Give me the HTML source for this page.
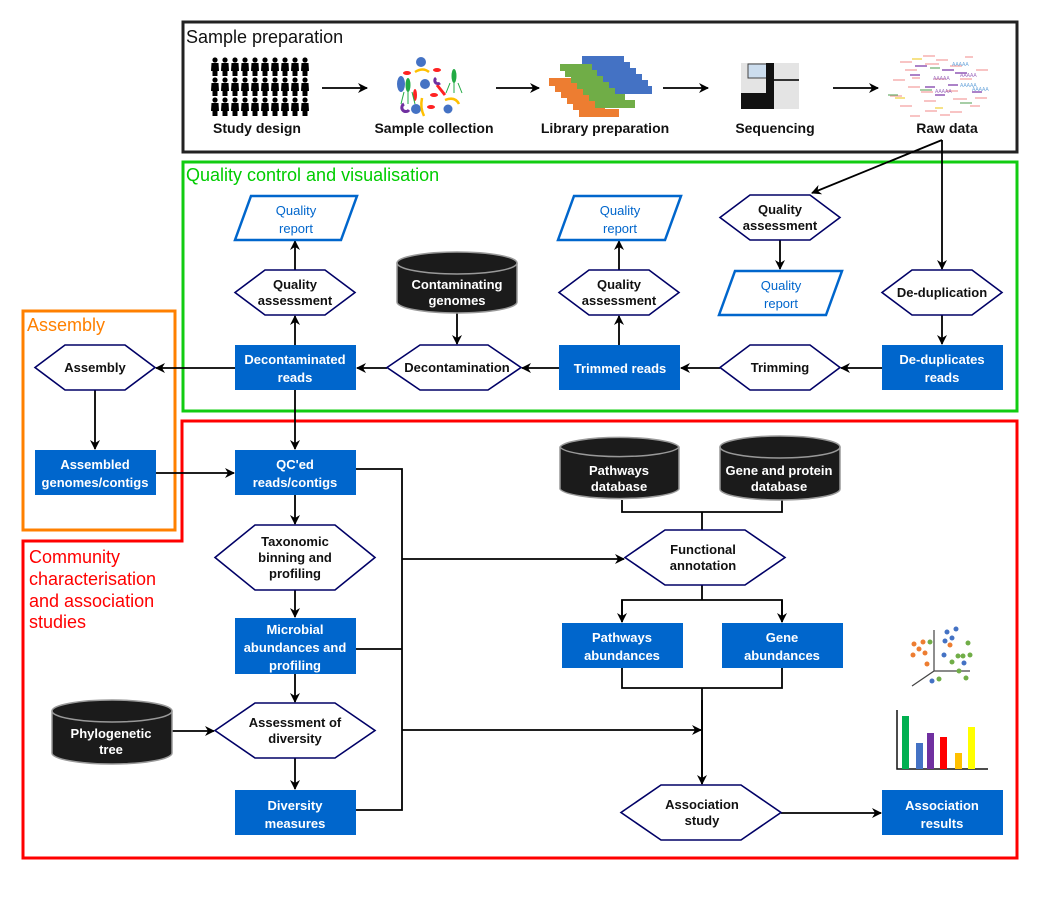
<!DOCTYPE html>
<html><head><meta charset="utf-8"><style>
html,body{margin:0;padding:0;background:#fff;}
svg{display:block;}
text{font-family:"Liberation Sans",Arial,sans-serif;}
.b{font-weight:bold;font-size:13px;text-anchor:middle;fill:#111;}
.w{font-weight:bold;font-size:13px;text-anchor:middle;fill:#fff;}
.q{font-size:13px;text-anchor:middle;fill:#0066cc;}
.lbl{font-weight:bold;font-size:14px;text-anchor:middle;fill:#111;}
.hex{fill:#fff;stroke:#000066;stroke-width:1.6;}
.par{fill:#fff;stroke:#0066cc;stroke-width:2.5;}
.rect{fill:#0066cc;}
.cyl{fill:#1b1b1b;stroke:#999;stroke-width:1.5;}
.ln{stroke:#000;stroke-width:1.8;fill:none;}
</style></head><body>
<svg width="1039" height="901" viewBox="0 0 1039 901" xmlns="http://www.w3.org/2000/svg">
<defs>
<marker id="a" markerWidth="10" markerHeight="10" refX="9" refY="5" orient="auto" markerUnits="userSpaceOnUse">
<path d="M0,0 L10,5 L0,10 L3,5 Z" fill="#000"/></marker>
<pattern id="ppl" x="210" y="57" width="10" height="20" patternUnits="userSpaceOnUse">
<circle cx="5" cy="3" r="2.6" fill="#000"/><path d="M1.5,6 h7 l0.5,8 h-1.5 v5 h-5 v-5 h-1.5z" fill="#000"/></pattern>
</defs>

<!-- Section boxes -->
<rect x="183" y="22" width="834" height="130" fill="none" stroke="#222" stroke-width="3"/>
<rect x="183" y="162" width="834" height="249" fill="none" stroke="#11cc11" stroke-width="3"/>
<rect x="23" y="311" width="152" height="219" fill="none" stroke="#ff8000" stroke-width="3"/>
<path d="M182,541 V421 H1017 V858 H23 V541 Z" fill="none" stroke="#ff0000" stroke-width="3"/>

<text x="186" y="43" font-size="18" fill="#111">Sample preparation</text>
<text x="186" y="181" font-size="18" fill="#00cc00">Quality control and visualisation</text>
<text x="27" y="331" font-size="18" fill="#ff8000">Assembly</text>
<text font-size="18" fill="#ff0000"><tspan x="29" y="563">Community</tspan><tspan x="29" y="585">characterisation</tspan><tspan x="29" y="607">and association</tspan><tspan x="29" y="628">studies</tspan></text>

<!-- top row icons -->
<rect x="210" y="57" width="100" height="60" fill="url(#ppl)"/>
<g>
<circle cx="421" cy="62" r="5" fill="#4472c4"/>
<ellipse cx="401" cy="84" rx="4" ry="8" fill="#4472c4"/>
<circle cx="425" cy="84" r="5" fill="#4472c4"/>
<circle cx="416" cy="109" r="5" fill="#4472c4"/>
<circle cx="448" cy="109" r="4.5" fill="#4472c4"/>
<ellipse cx="407" cy="73" rx="4" ry="2" fill="#ff2222"/>
<ellipse cx="437" cy="70" rx="4" ry="2" fill="#ff2222"/>
<ellipse cx="434" cy="95" rx="4" ry="2" fill="#ff2222"/>
<ellipse cx="431" cy="107" rx="4" ry="2" fill="#ff2222"/>
<ellipse cx="415" cy="95" rx="2" ry="6" fill="#ff2222"/>
<path d="M437,85 l8,10" stroke="#ff2222" stroke-width="3"/>
<path d="M415,72 q8,-5 14,0" stroke="#ffc000" stroke-width="2.5" fill="none"/>
<path d="M445,100 q10,-4 14,4" stroke="#ffc000" stroke-width="2.5" fill="none"/>
<path d="M422,98 q-2,10 2,18" stroke="#ffc000" stroke-width="2.5" fill="none"/>
<ellipse cx="408" cy="85" rx="2.5" ry="7" fill="#22aa44"/>
<path d="M404,92 l-3,12 M408,92 v12 M412,92 l3,12" stroke="#22aa44" stroke-width="1"/>
<ellipse cx="454" cy="76" rx="2.5" ry="7" fill="#22aa44"/>
<path d="M450,83 l-4,10 M454,83 v10 M458,83 l4,10" stroke="#22aa44" stroke-width="1"/>
<path d="M404,104 a4,4 0 1 0 5,6" stroke="#7030a0" stroke-width="3" fill="none"/>
<path d="M436,78 a3,3 0 1 0 4,5" stroke="#7030a0" stroke-width="3" fill="none"/>
</g>
<g>
<rect x="582" y="56" width="42" height="8" fill="#4472c4"/>
<rect x="588" y="62" width="42" height="8" fill="#4472c4"/>
<rect x="594" y="68" width="42" height="8" fill="#4472c4"/>
<rect x="600" y="74" width="42" height="8" fill="#4472c4"/>
<rect x="606" y="80" width="42" height="8" fill="#4472c4"/>
<rect x="612" y="86" width="40" height="8" fill="#4472c4"/>
<rect x="549" y="78" width="32" height="8" fill="#ed7d31"/>
<rect x="555" y="84" width="32" height="8" fill="#ed7d31"/>
<rect x="561" y="90" width="32" height="8" fill="#ed7d31"/>
<rect x="567" y="96" width="32" height="8" fill="#ed7d31"/>
<rect x="573" y="102" width="32" height="8" fill="#ed7d31"/>
<rect x="579" y="109" width="40" height="8" fill="#ed7d31"/>
<rect x="560" y="64" width="32" height="7" fill="#70ad47"/>
<rect x="565" y="70" width="32" height="7" fill="#70ad47"/>
<rect x="571" y="76" width="32" height="7" fill="#70ad47"/>
<rect x="577" y="82" width="32" height="7" fill="#70ad47"/>
<rect x="583" y="88" width="32" height="7" fill="#70ad47"/>
<rect x="589" y="94" width="36" height="7" fill="#70ad47"/>
<rect x="595" y="100" width="40" height="8" fill="#70ad47"/>
</g>
<g>
<rect x="741" y="63" width="58" height="46" fill="#e4e4e4"/>
<rect x="741" y="93" width="28" height="16" fill="#111"/>
<rect x="748" y="64" width="20" height="14" fill="#cde" stroke="#444"/>
<rect x="766" y="63" width="8" height="46" fill="#111"/>
<rect x="774" y="79" width="25" height="2" fill="#333"/>
</g>
<g stroke-width="1.2">
<path d="M900,62 h12 M923,56 h12 M936,60 h12 M965,57 h8 M905,70 h12 M925,64 h14 M950,66 h12 M976,70 h12 M893,80 h12 M912,78 h8 M934,79 h12 M960,79 h12 M908,87 h12 M921,92 h12 M946,91 h12 M890,96 h12 M924,101 h12 M953,99 h14 M975,98 h12 M900,106 h12 M925,111 h12 M950,112 h12 M970,106 h10 M910,116 h10 M940,115 h10" stroke="#f4a0a0"/>
<path d="M915,66 h12 M942,70 h12 M925,87 h10 M948,85 h10 M910,75 h10 M955,73 h12 M972,92 h10 M935,95 h10" stroke="#a070c0" stroke-width="1.8"/>
<path d="M920,90 h12 M888,95 h10 M930,68 h10 M960,103 h12" stroke="#70b070"/>
<path d="M895,98 h10 M912,59 h10 M935,108 h8" stroke="#f0d040"/>
<text x="952" y="66" font-size="5" fill="#6fa8dc">AAAAA</text>
<text x="933" y="80" font-size="5" fill="#a070c0">AAAAA</text>
<text x="960" y="77" font-size="5" fill="#a070c0">AAAAA</text>
<text x="960" y="87" font-size="5" fill="#6fa8dc">AAAAA</text>
<text x="972" y="91" font-size="5" fill="#6fa8dc">AAAAA</text>
<text x="935" y="93" font-size="5" fill="#a070c0">AAAAA</text>
</g>

<text class="lbl" x="257" y="133">Study design</text>
<text class="lbl" x="434" y="133">Sample collection</text>
<text class="lbl" x="605" y="133">Library preparation</text>
<text class="lbl" x="775" y="133">Sequencing</text>
<text class="lbl" x="947" y="133">Raw data</text>

<g class="ln">
<path d="M322,88 H367" marker-end="url(#a)"/>
<path d="M496,88 H539" marker-end="url(#a)"/>
<path d="M663,88 H708" marker-end="url(#a)"/>
<path d="M833,88 H878" marker-end="url(#a)"/>
<path d="M942,140 L812,193" marker-end="url(#a)"/>
<path d="M942,140 V269" marker-end="url(#a)"/>
<path d="M780,240 V269" marker-end="url(#a)"/>
<path d="M942,315 V344" marker-end="url(#a)"/>
<path d="M882,368 H841" marker-end="url(#a)"/>
<path d="M720,368 H681" marker-end="url(#a)"/>
<path d="M619,345 V316" marker-end="url(#a)"/>
<path d="M619,270 V241" marker-end="url(#a)"/>
<path d="M559,368 H522" marker-end="url(#a)"/>
<path d="M457,313 V344" marker-end="url(#a)"/>
<path d="M387,368 H357" marker-end="url(#a)"/>
<path d="M295,345 V316" marker-end="url(#a)"/>
<path d="M295,270 V241" marker-end="url(#a)"/>
<path d="M235,368 H156" marker-end="url(#a)"/>
<path d="M295,390 V449" marker-end="url(#a)"/>
<path d="M95,390 V449" marker-end="url(#a)"/>
<path d="M156,473 H234" marker-end="url(#a)"/>
<path d="M295,495 V524" marker-end="url(#a)"/>
<path d="M295,590 V617" marker-end="url(#a)"/>
<path d="M295,674 V702" marker-end="url(#a)"/>
<path d="M295,758 V789" marker-end="url(#a)"/>
<path d="M172,731 H214" marker-end="url(#a)"/>
<path d="M356,469 H402 V810 H356 M356,649 H402"/>
<path d="M402,559 H624" marker-end="url(#a)"/>
<path d="M402,730 H701" marker-end="url(#a)"/>
<path d="M622,500 V512 H782 V500 M702,512 V530"/>
<path d="M702,585 V600 H622 V622 M702,600 H782 V622"/>
<path d="M622,600 V622" marker-end="url(#a)"/>
<path d="M782,600 V622" marker-end="url(#a)"/>
<path d="M622,668 V688 H782 V668 M702,688 V784" />
<path d="M702,700 V784" marker-end="url(#a)"/>
<path d="M781,813 H881" marker-end="url(#a)"/>
</g>

<!-- parallelograms -->
<polygon class="par" points="235,240 251,196 357,196 341,240"/>
<text class="q"><tspan x="296" y="215">Quality</tspan><tspan x="296" y="233">report</tspan></text>
<polygon class="par" points="558,240 574,196 681,196 665,240"/>
<text class="q"><tspan x="620" y="215">Quality</tspan><tspan x="620" y="233">report</tspan></text>
<polygon class="par" points="719,315 735,271 842,271 826,315"/>
<text class="q"><tspan x="781" y="290">Quality</tspan><tspan x="781" y="308">report</tspan></text>

<!-- hexagons -->
<polygon class="hex" points="35,367.5 65,345 125,345 155,367.5 125,390 65,390"/>
<text class="b" x="95" y="372">Assembly</text>
<polygon class="hex" points="235,292.5 265,270 325,270 355,292.5 325,315 265,315"/>
<text class="b"><tspan x="295" y="289">Quality</tspan><tspan x="295" y="305">assessment</tspan></text>
<polygon class="hex" points="387,367.5 420,345 488,345 521,367.5 488,390 420,390"/>
<text class="b" x="457" y="372">Decontamination</text>
<polygon class="hex" points="559,292.5 589,270 649,270 679,292.5 649,315 589,315"/>
<text class="b"><tspan x="619" y="289">Quality</tspan><tspan x="619" y="305">assessment</tspan></text>
<polygon class="hex" points="720,217.5 750,195 810,195 840,217.5 810,240 750,240"/>
<text class="b"><tspan x="780" y="214">Quality</tspan><tspan x="780" y="230">assessment</tspan></text>
<polygon class="hex" points="882,292.5 912,270 972,270 1002,292.5 972,315 912,315"/>
<text class="b" x="942" y="297">De-duplication</text>
<polygon class="hex" points="720,367.5 750,345 810,345 840,367.5 810,390 750,390"/>
<text class="b" x="780" y="372">Trimming</text>
<polygon class="hex" points="215,557.5 255,525 335,525 375,557.5 335,590 255,590"/>
<text class="b"><tspan x="295" y="546">Taxonomic</tspan><tspan x="295" y="562">binning and</tspan><tspan x="295" y="578">profiling</tspan></text>
<polygon class="hex" points="215,730.5 255,703 335,703 375,730.5 335,758 255,758"/>
<text class="b"><tspan x="295" y="727">Assessment of</tspan><tspan x="295" y="743">diversity</tspan></text>
<polygon class="hex" points="625,557.5 665,530 745,530 785,557.5 745,585 665,585"/>
<text class="b"><tspan x="703" y="554">Functional</tspan><tspan x="703" y="570">annotation</tspan></text>
<polygon class="hex" points="621,812.5 661,785 741,785 781,812.5 741,840 661,840"/>
<text class="b"><tspan x="702" y="809">Association</tspan><tspan x="702" y="825">study</tspan></text>

<!-- blue rects -->
<rect class="rect" x="235" y="345" width="121" height="45"/>
<text class="w"><tspan x="295" y="364">Decontaminated</tspan><tspan x="295" y="382">reads</tspan></text>
<rect class="rect" x="559" y="345" width="121" height="45"/>
<text class="w" x="620" y="373">Trimmed reads</text>
<rect class="rect" x="882" y="345" width="121" height="45"/>
<text class="w"><tspan x="942" y="364">De-duplicates</tspan><tspan x="942" y="382">reads</tspan></text>
<rect class="rect" x="35" y="450" width="121" height="45"/>
<text class="w"><tspan x="95" y="469">Assembled</tspan><tspan x="95" y="487">genomes/contigs</tspan></text>
<rect class="rect" x="235" y="450" width="121" height="45"/>
<text class="w"><tspan x="295" y="469">QC'ed</tspan><tspan x="295" y="487">reads/contigs</tspan></text>
<rect class="rect" x="235" y="618" width="121" height="56"/>
<text class="w"><tspan x="295" y="634">Microbial</tspan><tspan x="295" y="652">abundances and</tspan><tspan x="295" y="670">profiling</tspan></text>
<rect class="rect" x="235" y="790" width="121" height="45"/>
<text class="w"><tspan x="295" y="810">Diversity</tspan><tspan x="295" y="828">measures</tspan></text>
<rect class="rect" x="562" y="623" width="121" height="45"/>
<text class="w"><tspan x="622" y="642">Pathways</tspan><tspan x="622" y="660">abundances</tspan></text>
<rect class="rect" x="722" y="623" width="121" height="45"/>
<text class="w"><tspan x="782" y="642">Gene</tspan><tspan x="782" y="660">abundances</tspan></text>
<rect class="rect" x="882" y="790" width="121" height="45"/>
<text class="w"><tspan x="942" y="810">Association</tspan><tspan x="942" y="828">results</tspan></text>

<!-- cylinders -->
<g>
<path class="cyl" d="M397,263 A60,11 0 0 1 517,263 V302 A60,11 0 0 1 397,302 Z"/>
<path d="M397,263 A60,11 0 0 0 517,263" stroke="#999" stroke-width="1.5" fill="none"/>
<text class="w"><tspan x="457" y="289">Contaminating</tspan><tspan x="457" y="305">genomes</tspan></text>
<path class="cyl" d="M560,447 A60,11 0 0 1 679,447 V489 A60,11 0 0 1 560,489 Z"/>
<path d="M560,447 A60,11 0 0 0 679,447" stroke="#999" stroke-width="1.5" fill="none"/>
<text class="w"><tspan x="619" y="475">Pathways</tspan><tspan x="619" y="491">database</tspan></text>
<path class="cyl" d="M720,447 A60,11 0 0 1 840,447 V489 A60,11 0 0 1 720,489 Z"/>
<path d="M720,447 A60,11 0 0 0 840,447" stroke="#999" stroke-width="1.5" fill="none"/>
<text class="w"><tspan x="779" y="475">Gene and protein</tspan><tspan x="779" y="491">database</tspan></text>
<path class="cyl" d="M52,711 A60,11 0 0 1 172,711 V753 A60,11 0 0 1 52,753 Z"/>
<path d="M52,711 A60,11 0 0 0 172,711" stroke="#999" stroke-width="1.5" fill="none"/>
<text class="w"><tspan x="111" y="738">Phylogenetic</tspan><tspan x="111" y="754">tree</tspan></text>
</g>

<!-- scatter -->
<g>
<path d="M934,630 V671 L912,686 M934,671 H970" stroke="#444" stroke-width="1.2" fill="none"/>
<g fill="#ed7d31"><circle cx="914" cy="644" r="2.5"/><circle cx="923" cy="642" r="2.5"/><circle cx="919" cy="649" r="2.5"/><circle cx="913" cy="655" r="2.5"/><circle cx="925" cy="653" r="2.5"/><circle cx="927" cy="664" r="2.5"/><circle cx="950" cy="645" r="2.5"/></g>
<g fill="#4472c4"><circle cx="947" cy="632" r="2.5"/><circle cx="956" cy="629" r="2.5"/><circle cx="945" cy="641" r="2.5"/><circle cx="952" cy="638" r="2.5"/><circle cx="944" cy="655" r="2.5"/><circle cx="964" cy="663" r="2.5"/><circle cx="932" cy="681" r="2.5"/></g>
<g fill="#70ad47"><circle cx="930" cy="642" r="2.5"/><circle cx="968" cy="643" r="2.5"/><circle cx="958" cy="656" r="2.5"/><circle cx="963" cy="656" r="2.5"/><circle cx="970" cy="655" r="2.5"/><circle cx="952" cy="662" r="2.5"/><circle cx="959" cy="671" r="2.5"/><circle cx="939" cy="679" r="2.5"/><circle cx="966" cy="678" r="2.5"/></g>
</g>
<!-- bars -->
<g>
<path d="M897,710 V769 H988" stroke="#111" stroke-width="1.5" fill="none"/>
<rect x="902" y="716" width="7" height="53" fill="#00b050"/>
<rect x="916" y="743" width="7" height="26" fill="#4472c4"/>
<rect x="927" y="733" width="7" height="36" fill="#7030a0"/>
<rect x="940" y="737" width="7" height="32" fill="#ff0000"/>
<rect x="955" y="753" width="7" height="16" fill="#ffc000"/>
<rect x="968" y="727" width="7" height="42" fill="#ffff00"/>
</g>
</svg>
</body></html>
